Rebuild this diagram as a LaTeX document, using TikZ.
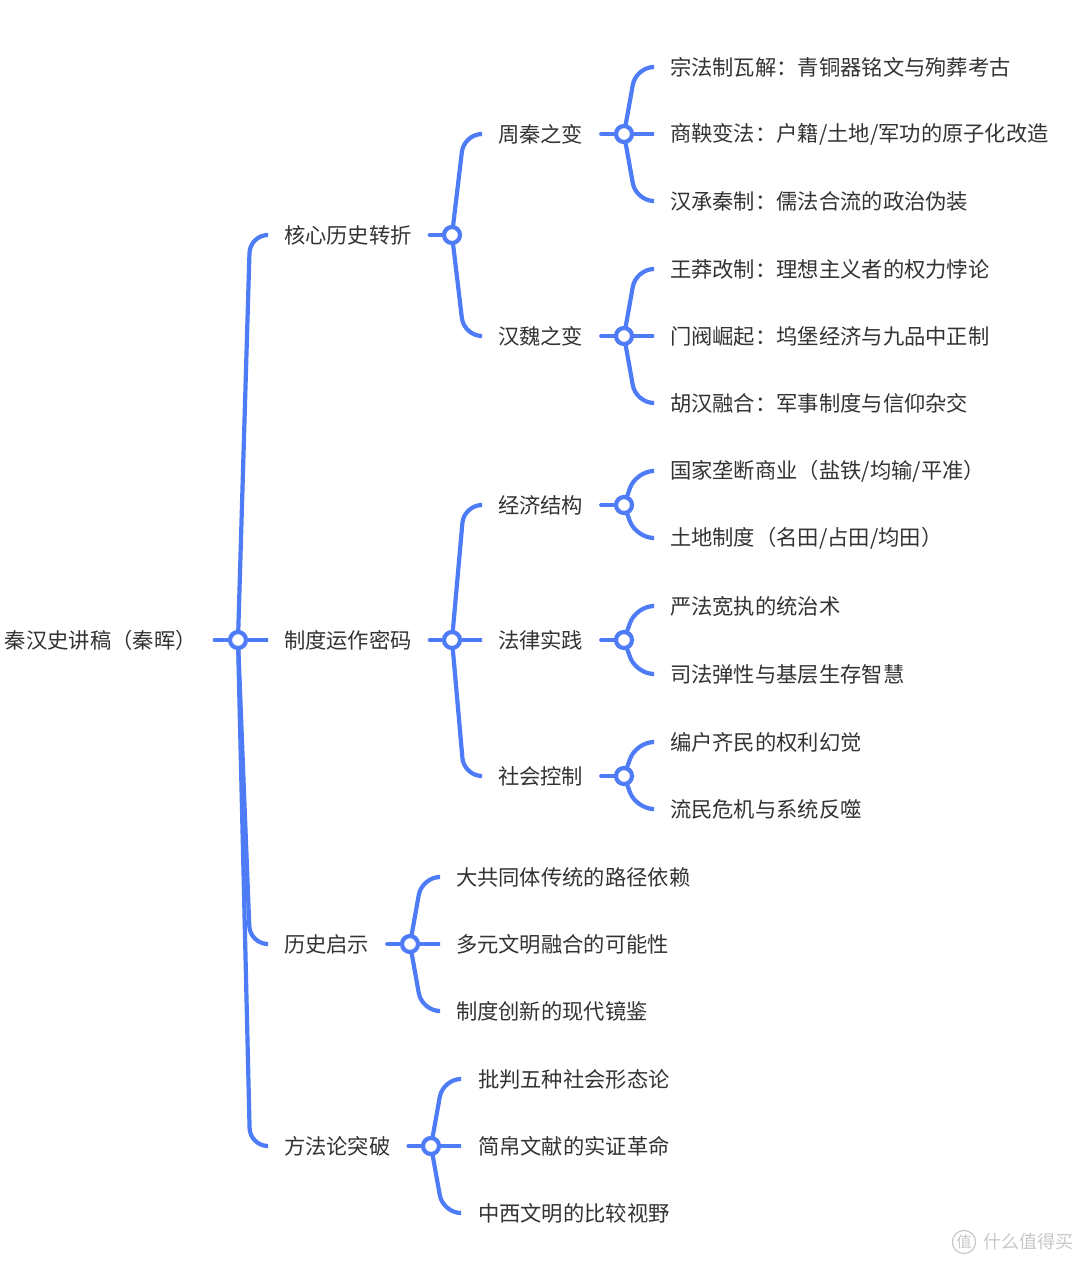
\documentclass[tikz,border=0pt]{standalone}
\usepackage{fontspec}
\setmainfont{Noto Sans CJK SC}
\usetikzlibrary{calc}
\pgfdeclarelayer{bg}
\pgfsetlayers{bg,main}
\definecolor{lineblue}{RGB}{78,124,246}
\definecolor{txt}{RGB}{51,51,51}
\definecolor{wm}{RGB}{200,200,200}
\tikzset{
  lbl/.style={anchor=west,inner sep=0pt,outer sep=0pt,font=\fontsize{21.3}{21.3}\selectfont,text=txt},
  hub/.style={circle,draw=lineblue,line width=4.2pt,fill=white,minimum size=16pt,inner sep=0pt},
  conn/.style={draw=lineblue,line width=4.2pt,line cap=round,rounded corners=18pt},
}
\newcommand{\branch}[2]{\draw[conn] (#1.center) -- ($(#1.center |- #2.west)+(12,0)$) -- ($(#2.west)+(-18,0)$);}
\newcommand{\stub}[2]{\draw[conn] ($(#1.east)+(18,0)$) -- (#2.center);}
\begin{document}
\begin{tikzpicture}[x=1pt,y=-1pt]
\begin{pgfonlayer}{bg}
\fill[white] (0,0) rectangle (1080,1264);
\end{pgfonlayer}
\useasboundingbox (0,0) rectangle (1080,1264);
% root
\node[lbl] (root) at (5,640) {秦汉史讲稿（秦晖）};
% level 1
\node[lbl] (a1) at (284,235) {核心历史转折};
\node[lbl] (a2) at (284,640) {制度运作密码};
\node[lbl] (a3) at (284,944) {历史启示};
\node[lbl] (a4) at (284,1146) {方法论突破};
% level 2
\node[lbl] (b1) at (498,134) {周秦之变};
\node[lbl] (b2) at (498,336) {汉魏之变};
\node[lbl] (b3) at (498,505) {经济结构};
\node[lbl] (b4) at (498,640) {法律实践};
\node[lbl] (b5) at (498,776) {社会控制};
% level 3
\node[lbl] (c11) at (670,67) {宗法制瓦解：青铜器铭文与殉葬考古};
\node[lbl] (c12) at (670,134) {商鞅变法：户籍/土地/军功的原子化改造};
\node[lbl] (c13) at (670,201) {汉承秦制：儒法合流的政治伪装};
\node[lbl] (c21) at (670,269) {王莽改制：理想主义者的权力悖论};
\node[lbl] (c22) at (670,336) {门阀崛起：坞堡经济与九品中正制};
\node[lbl] (c23) at (670,403) {胡汉融合：军事制度与信仰杂交};
\node[lbl] (c31) at (670,471) {国家垄断商业（盐铁/均输/平准）};
\node[lbl] (c32) at (670,538) {土地制度（名田/占田/均田）};
\node[lbl] (c41) at (670,606) {严法宽执的统治术};
\node[lbl] (c42) at (670,674) {司法弹性与基层生存智慧};
\node[lbl] (c51) at (670,742) {编户齐民的权利幻觉};
\node[lbl] (c52) at (670,809) {流民危机与系统反噬};
\node[lbl] (d1) at (456,877) {大共同体传统的路径依赖};
\node[lbl] (d2) at (456,944) {多元文明融合的可能性};
\node[lbl] (d3) at (456,1011) {制度创新的现代镜鉴};
\node[lbl] (e1) at (478,1079) {批判五种社会形态论};
\node[lbl] (e2) at (478,1146) {简帛文献的实证革命};
\node[lbl] (e3) at (478,1213) {中西文明的比较视野};
% hubs
\node[hub] (Hr) at (238,640) {};
\node[hub] (H1) at (452,235) {};
\node[hub] (H2) at (452,640) {};
\node[hub] (H3) at (410,944) {};
\node[hub] (H4) at (431,1146) {};
\node[hub] (G1) at (624,134) {};
\node[hub] (G2) at (624,336) {};
\node[hub] (G3) at (624,505) {};
\node[hub] (G4) at (624,640) {};
\node[hub] (G5) at (624,776) {};
\begin{pgfonlayer}{bg}
% stubs
\stub{root}{Hr}
\stub{a1}{H1}
\stub{a2}{H2}
\stub{a3}{H3}
\stub{a4}{H4}
\stub{b1}{G1}
\stub{b2}{G2}
\stub{b3}{G3}
\stub{b4}{G4}
\stub{b5}{G5}
% branches
\branch{Hr}{a1}\branch{Hr}{a2}\branch{Hr}{a3}\branch{Hr}{a4}
\branch{H1}{b1}\branch{H1}{b2}
\branch{H2}{b3}\branch{H2}{b4}\branch{H2}{b5}
\branch{G1}{c11}\branch{G1}{c12}\branch{G1}{c13}
\branch{G2}{c21}\branch{G2}{c22}\branch{G2}{c23}
\branch{G3}{c31}\branch{G3}{c32}
\branch{G4}{c41}\branch{G4}{c42}
\branch{G5}{c51}\branch{G5}{c52}
\branch{H3}{d1}\branch{H3}{d2}\branch{H3}{d3}
\branch{H4}{e1}\branch{H4}{e2}\branch{H4}{e3}
\end{pgfonlayer}
% watermark
\node[circle,draw=wm,line width=1.2pt,inner sep=1pt,text=wm,font=\fontsize{15}{15}\selectfont] (wmc) at (964,1242) {值};
\node[anchor=west,inner sep=0pt,text=wm,font=\fontsize{18}{18}\selectfont] (wmt) at (983,1242) {什么值得买};
\end{tikzpicture}
\end{document}
